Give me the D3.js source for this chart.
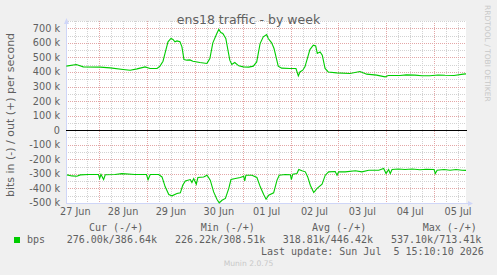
<!DOCTYPE html>
<html>
<head>
<meta charset="utf-8">
<script src="https://cdn.jsdelivr.net/npm/d3@7"></script>
<style>
  html, body { margin: 0; padding: 0; background: #F0F0F0; }
  svg { display: block; }
</style>
</head>
<body>
<svg id="chart" width="497" height="275"></svg>
<script>
// ---- data (hours since 27 Jun 2026 00:00, values in k bits/s) ----
const outHours = [7.5,12.5,16,24.5,29.5,36,39.5,43,47,49.5,53,54.5,56,57,58.5,60,61,62,63,64.5,65.5,66.5,68,69.5,71,74.5,78,78.5,79.5,81,83,84,85,86,87.5,89.5,90.5,92,94,96.3,99,101.3,103,104.7,106.3,108,108.8,110.5,111.7,112.7,113.8,115.5,119.7,122.7,123.9,124.7,126.1,127.2,128.4,129.7,131.4,132.6,133.4,134.8,135.9,137.3,138.9,143.1,149.8,154.8,158.2,163.2,167.4,169,174.9,178,182.4,186,189.9,194,197.5,202,206.6,208];
const outK = [440,451,435,433,428,417,412,421,435,424,424,440,474,527,607,630,623,607,613,607,572,486,481,483,474,465,458,469,492,600,664,693,671,664,630,481,451,465,442,435,433,440,469,595,641,657,630,600,561,503,440,426,424,424,373,400,412,435,492,554,584,579,527,538,515,424,400,394,389,403,385,378,366,376,376,380,378,374,374,379,377,376,385,386.6];
const inHours = [7.8,10.3,12.8,14.5,18.7,22,23.6,24.2,24.9,26.2,27,31.9,35.4,41.9,47.7,48.5,49.6,53.8,55.5,57.1,58.9,60.5,63,64.7,65.9,67.2,69.7,70.5,71.4,72.7,73.5,76.4,78.1,79.7,81.4,83.1,84.2,85.6,87.3,89,90.1,92.3,94.8,96.5,97,97.6,100.6,103.1,104.8,106.5,107.7,109,111.5,113.2,114.3,117.3,119.9,120.4,121.1,123.2,124.1,125.7,127.4,128.6,129.9,131.6,133.3,135.8,137.4,139.1,142.4,143.3,144.1,147.4,152.5,155.8,159.2,164.2,166.7,167.9,169.2,170,170.9,174,177.4,181,184.9,188,192,192.6,193.5,197,200,203,206,208];
const inK = [307,314,316,307,304,304,304,332,304,339,306,304,298,304,304,339,304,304,321,389,442,451,435,430,378,348,339,359,332,371,325,321,309,343,424,476,499,481,469,400,339,332,325,316,348,309,309,325,389,442,474,446,430,343,309,304,306,339,302,298,270,279,286,321,378,428,400,371,309,286,284,309,286,286,279,286,275,275,263,298,270,298,270,266,270,266,272,268,270,298,275,270,275,270,275,276];

const yTicks = [700,600,500,400,300,200,100,0,-100,-200,-300,-400,-500];
const yTickLabels = ["700 k","600 k","500 k","400 k","300 k","200 k","100 k","0","-100 k","-200 k","-300 k","-400 k","-500 k"];
const dayLabels = ["27 Jun","28 Jun","29 Jun","30 Jun","01 Jul","02 Jul","03 Jul","04 Jul","05 Jul"];

const legendHeaders = ["Cur (-/+)","Min (-/+)","Avg (-/+)","Max (-/+)"];
const legendValues = ["276.00k/386.64k","226.22k/308.51k","318.81k/446.42k","537.10k/713.41k"];

// ---- setup ----
const base = new Date(2026, 5, 27, 0, 0, 0);
const toDate = h => new Date(base.getTime() + h * 3600e3);
const svg = d3.select("#chart");
const L = 66, R = 466, T = 21, B = 203;
const x = d3.scaleTime().domain([toDate(7.333), toDate(208)]).range([L, R]);
const y = d3.scaleLinear().domain([-500, 750]).range([B, T]);
const sans = "DejaVu Sans", mono = "DejaVu Sans Mono";
const fontCol = "#606060";

svg.append("rect").attr("width", 497).attr("height", 275).attr("fill", "#F0F0F0");
svg.append("rect").attr("x", L).attr("y", T).attr("width", R - L).attr("height", B - T).attr("fill", "#FFFFFF");

// vertical grid: every 6 hours (minor), midnight (major)
const vTicks = d3.timeHour.every(6).range(x.domain()[0], x.domain()[1]);
svg.append("g").selectAll("line").data(vTicks).join("line")
  .attr("x1", d => Math.round(x(d)) + 0.5).attr("x2", d => Math.round(x(d)) + 0.5)
  .attr("y1", T).attr("y2", B)
  .attr("stroke", d => d.getHours() === 0 ? "#E3A6A6" : "#D2D2D2")
  .attr("stroke-width", 1).attr("stroke-dasharray", "1,1");

// horizontal grid: every 50k minor, 100k major
const hTicks = d3.range(-450, 751, 50);
svg.append("g").selectAll("line").data(hTicks).join("line")
  .attr("x1", L).attr("x2", R)
  .attr("y1", d => Math.round(y(d)) + 0.5).attr("y2", d => Math.round(y(d)) + 0.5)
  .attr("stroke", d => d % 100 === 0 ? "#E3A6A6" : "#D2D2D2")
  .attr("stroke-width", 1).attr("stroke-dasharray", "1,1");

// y tick labels
svg.append("g").selectAll("text").data(yTicks).join("text")
  .attr("x", 60).attr("y", d => y(d)).attr("dy", "0.36em")
  .attr("text-anchor", "end").attr("font-family", sans).attr("font-size", 9.7)
  .attr("fill", fontCol).text((d, i) => yTickLabels[i]);

// x tick labels at noon
const noons = d3.timeDay.range(toDate(0), toDate(209)).map(d => d3.timeHour.offset(d, 12));
svg.append("g").selectAll("text").data(noons).join("text")
  .attr("x", d => x(d)).attr("y", 215)
  .attr("text-anchor", "middle").attr("font-family", sans).attr("font-size", 9.7)
  .attr("fill", fontCol).text((d, i) => dayLabels[i]);

// axes
const axisCol = "#CFD6F8";
svg.append("line").attr("x1", L + 0.5).attr("x2", L + 0.5).attr("y1", B).attr("y2", T - 1).attr("stroke", axisCol);
svg.append("line").attr("x1", L).attr("x2", R + 3).attr("y1", B + 0.5).attr("y2", B + 0.5).attr("stroke", axisCol);
svg.append("path").attr("d", `M${L - 2},${T + 3} L${L + 0.5},${T - 3} L${L + 3},${T + 3} Z`).attr("fill", axisCol);
svg.append("path").attr("d", `M${R + 2},${B - 2} L${R + 7},${B + 0.5} L${R + 2},${B + 3} Z`).attr("fill", axisCol);

// zero line
svg.append("line").attr("x1", L).attr("x2", R + 1).attr("y1", Math.round(y(0)) + 0.5).attr("y2", Math.round(y(0)) + 0.5)
  .attr("stroke", "#000000").attr("stroke-width", 1);

// series
const green = "#00CC00";
const outLine = d3.line().x((d, i) => x(toDate(outHours[i]))).y(d => y(d));
const inLine = d3.line().x((d, i) => x(toDate(inHours[i]))).y(d => y(-d));
svg.append("path").datum(outK).attr("d", outLine).attr("fill", "none").attr("stroke", green).attr("stroke-width", 1.1);
svg.append("path").datum(inK).attr("d", inLine).attr("fill", "none").attr("stroke", green).attr("stroke-width", 1.1);

// title
svg.append("text").attr("x", 248.5).attr("y", 24).attr("text-anchor", "middle")
  .attr("font-family", sans).attr("font-size", 12.5).attr("fill", fontCol).text("ens18 traffic - by week");

// y axis title
svg.append("text").attr("transform", "translate(14,115) rotate(-90)").attr("text-anchor", "middle")
  .attr("font-family", sans).attr("font-size", 11).attr("fill", fontCol).text("bits in (-) / out (+) per second");

// side credit
svg.append("text").attr("transform", "translate(485,5) rotate(90)").attr("text-anchor", "start")
  .attr("font-family", sans).attr("font-size", 7.5).attr("fill", "#C8C8C8").text("RRDTOOL / TOBI OETIKER");

// legend
const headX = [89, 200.7, 312, 422.7];
const valX = [66.7, 175, 282.7, 391];
svg.append("g").selectAll("text").data(legendHeaders).join("text")
  .attr("x", (d, i) => headX[i]).attr("y", 231)
  .attr("font-family", mono).attr("font-size", 10).attr("fill", fontCol)
  .text(d => d);
svg.append("rect").attr("x", 14).attr("y", 237).attr("width", 6).attr("height", 6).attr("fill", green);
svg.append("text").attr("x", 27).attr("y", 242.5).attr("font-family", mono).attr("font-size", 10).attr("fill", fontCol).text("bps");
svg.append("g").selectAll("text").data(legendValues).join("text")
  .attr("x", (d, i) => valX[i]).attr("y", 242.5)
  .attr("font-family", mono).attr("font-size", 10).attr("fill", fontCol).text(d => d);
svg.append("text").attr("x", 261).attr("y", 255).attr("font-family", mono).attr("font-size", 10)
  .attr("fill", fontCol).style("white-space", "pre").text("Last update: Sun Jul  5 15:10:10 2026");

// watermark
svg.append("text").attr("x", 248.5).attr("y", 266).attr("text-anchor", "middle")
  .attr("font-family", sans).attr("font-size", 7.6).attr("fill", "#C8C8C8").text("Munin 2.0.75");
</script>
</body>
</html>
